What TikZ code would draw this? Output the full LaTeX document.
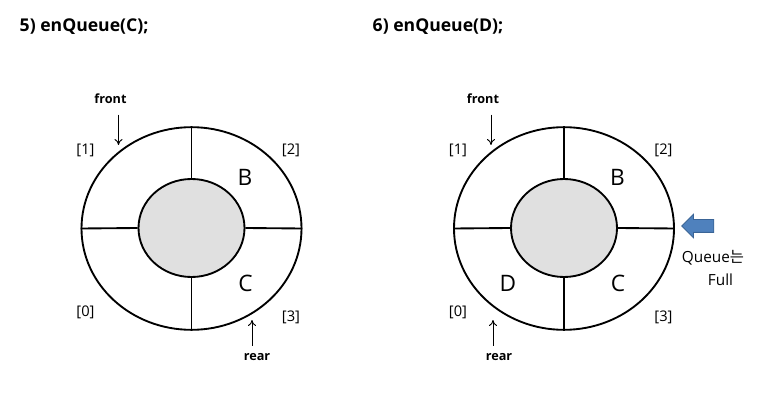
\documentclass[tikz,border=0pt]{standalone}
\usepackage{fontspec}
\setmainfont{Open Sans}
\newfontfamily\krfont{Noto Sans CJK KR}
\usetikzlibrary{arrows.meta,shapes.geometric,shapes.arrows}
\definecolor{Cell}{HTML}{E0E0E0}
\definecolor{FullBlue}{HTML}{4F81BD}
\definecolor{FullEdge}{HTML}{3A6496}

\begin{document}
\begin{tikzpicture}[x=.75pt,y=-.75pt,
    ring/.style={draw,ellipse,line width=1.4pt,inner sep=0pt},
    idx/.style={font=\fontsize{11}{13}\selectfont},
    item/.style={font=\fontsize{17}{20}\selectfont},
    ptr/.style={font=\fontsize{9.5}{11}\selectfont\bfseries},
    title/.style={font=\fontsize{13.2}{16}\selectfont\bfseries,anchor=west},
    note/.style={font=\fontsize{11.5}{14}\selectfont},
    pt/.style={-{To[length=4.5pt,width=6pt]},line width=.7pt}]
  \useasboundingbox (0,0) rectangle (762,409);
  \node[title] (titleL) at (15,27) {5) enQueue(C);};
  \node[title] (titleR) at (368,27) {6) enQueue(D);};
  % two rings, same layout
  \foreach \s/\cx in {L/191.5,R/564}{
    \node[ring,minimum width=165pt,minimum height=152pt] (out\s) at (\cx,228.5) {};
    \node[ring,fill=Cell,minimum width=79.5pt,minimum height=73.5pt] (in\s) at (\cx,228) {};
    \foreach \a in {north,south,east,west}
      \draw[line width=1.4pt] (in\s.\a) -- (out\s.\a);
    \node[idx] (idx1\s) at (\cx-106,150) {[1]};
    \node[idx] (idx2\s) at (\cx+99.5,150) {[2]};
    \node[idx] (idx0\s) at (\cx-106,312) {[0]};
    \node[idx] (idx3\s) at (\cx+99.5,317) {[3]};
    \node[item] (B\s) at (\cx+53.5,177) {B};
    \node[item] (C\s) at (\cx+54,283) {C};
    \node[ptr] (front\s) at (\cx-81,99) {front};
    \coordinate (fhit\s) at (\cx-73,145);
    \draw[pt] (front\s.south -| fhit\s) ++(0,6) -- (fhit\s);
  }
  \node[item] (DR) at (508,283) {D};
  % rear pointers
  \node[ptr] (rearL) at (257,357) {rear};
  \coordinate (rhitL) at (252,320);
  \draw[pt] (rearL.north -| rhitL) ++(0,-3) -- (rhitL);
  \node[ptr] (rearR) at (499,357) {rear};
  \coordinate (rhitR) at (493,320);
  \draw[pt] (rearR.north -| rhitR) ++(0,-3) -- (rhitR);
  % full marker
  \node[single arrow,shape border rotate=180,fill=FullBlue,draw=FullEdge,line width=.6pt,
    inner xsep=0pt,inner ysep=4.5pt,single arrow head extend=4pt,minimum height=24pt]
    (full) at (701,226) {};
  \node[note] (fullA) at (713,258) {Queue{\krfont 는}};
  \node[note] (fullB) at (720.5,280) {Full};
\end{tikzpicture}
\end{document}
